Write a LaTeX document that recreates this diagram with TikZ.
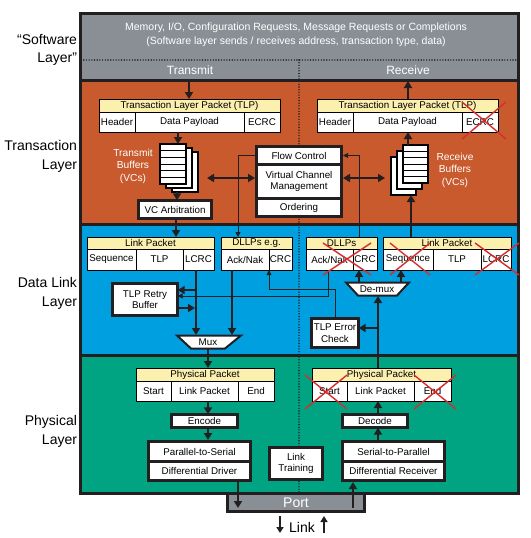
\documentclass[tikz,border=0pt]{standalone}
\usepackage{fontspec}
\setmainfont{Liberation Sans}
\usetikzlibrary{arrows.meta}
\definecolor{swgray}{RGB}{138,143,150}
\definecolor{txorange}{RGB}{200,90,45}
\definecolor{dlblue}{RGB}{0,160,224}
\definecolor{phgreen}{RGB}{0,163,130}
\definecolor{hdryellow}{RGB}{252,240,175}
\definecolor{xred}{RGB}{215,45,45}
\definecolor{framecol}{RGB}{35,31,32}
\newcommand\boxfont{\fontsize{9.8}{11.5}\selectfont}
\newcommand\lblfont{\fontsize{14}{18.5}\selectfont}
% rectangle node from its corners: [style]{name}{x1}{y1}{x2}{y2}{text}
\newcommand\boxat[7][]{%
  \pgfmathsetmacro\bxcx{(#3+#5)/2}\pgfmathsetmacro\bxcy{(#4+#6)/2}%
  \pgfmathsetmacro\bxw{#5-#3}\pgfmathsetmacro\bxh{#6-#4}%
  \node[#1, minimum width=\bxw pt, minimum height=\bxh pt] (#2) at (\bxcx,\bxcy) {#7};}
\begin{document}
\begin{tikzpicture}[x=1pt,y=-1pt,
  every node/.style={inner sep=0pt, outer sep=0pt},
  cell/.style={draw=black, line width=0.6pt, fill=white, font=\boxfont},
  hdr/.style={cell, fill=hdryellow},
  heavy/.style={draw=framecol, line width=2.6pt, fill=white, font=\boxfont, align=center},
  blk/.style={fill=framecol},
  inner/.style={fill=white, font=\boxfont, align=center},
  page/.style={draw=black, line width=1.6pt, fill=white},
  big/.style={line width=2.4pt, draw=framecol, -{Triangle[length=7pt,width=8pt]}},
  bigboth/.style={line width=2.4pt, draw=framecol, {Triangle[length=7pt,width=8pt]}-{Triangle[length=7pt,width=8pt]}},
  thinar/.style={line width=0.9pt, draw=framecol, -{Triangle[length=5pt,width=5pt]}},
  linkar/.style={line width=2pt, draw=framecol, -{Triangle[length=6pt,width=7pt]}},
  dots/.style={draw=framecol, line width=1.6pt, line cap=round, dash pattern=on 0pt off 2.7pt},
  xmark/.style={draw=xred, line width=1.4pt},
  wtext/.style={text=white, font=\boxfont, align=center}
]
\useasboundingbox (0,0) rectangle (530,538);

% layer bands
\fill[swgray] (80,13) rectangle (518,80);
\fill[txorange] (80,80) rectangle (518,224);
\fill[dlblue] (80,224) rectangle (518,355);
\fill[phgreen] (80,355) rectangle (518,493);
\draw[framecol, line width=3pt] (80,80) -- (518,80) (80,224) -- (518,224) (80,355) -- (518,355);
\draw[dots] (81,60) -- (517,60);
\draw[dots] (299,60) -- (299,492);
\draw[framecol, line width=3pt] (80,13) rectangle (518,493);

% layer names
\node[font=\lblfont, align=right, anchor=east] (swlayer) at (77,50) {“Software\\Layer”};
\node[font=\lblfont, align=right, anchor=east] (trlayer) at (77,156.5) {Transaction\\Layer};
\node[font=\lblfont, align=right, anchor=east] (dllayer) at (77,293.5) {Data Link\\Layer};
\node[font=\lblfont, align=right, anchor=east] (phlayer) at (77,431.5) {Physical\\Layer};

% software layer
\node[text=white, font=\fontsize{10.5}{14}\selectfont, align=center] (swtext) at (296,35)
  {Memory, I/O, Configuration Requests, Message Requests or Completions\\(Software layer sends / receives address, transaction type, data)};
\node[text=white, font=\fontsize{12}{14}\selectfont] (txlbl) at (190,70) {Transmit};
\node[text=white, font=\fontsize{12}{14}\selectfont] (rxlbl) at (408,70) {Receive};

% transaction layer packets
\boxat[hdr]{tlptx}{99}{99}{280}{112}{Transaction Layer Packet (TLP)}
\boxat[cell]{tlptxH}{99}{112}{135}{132}{Header}
\boxat[cell]{tlptxD}{135}{112}{244}{132}{Data Payload}
\boxat[cell]{tlptxE}{244}{112}{280}{132}{ECRC}
\boxat[hdr]{tlprx}{317}{99}{498}{112}{Transaction Layer Packet (TLP)}
\boxat[cell]{tlprxH}{317}{112}{353}{132}{Header}
\boxat[cell]{tlprxD}{353}{112}{462}{132}{Data Payload}
\boxat[cell]{tlprxE}{462}{112}{498}{132}{ECRC}

% transmit buffers
\boxat[page]{txb3}{172}{152}{198}{192}{}
\boxat[page]{txb2}{166}{148}{192}{188}{}
\boxat[page]{txb1}{160}{144}{186}{184}{}
\foreach \yy in {150.7,157.3,164,170.7,177.3} \draw[line width=1pt] (160,\yy) -- (186,\yy);
\node[wtext, font=\fontsize{10.2}{12.5}\selectfont] (txbuflbl) at (133,166) {Transmit\\Buffers\\(VCs)};
\boxat[heavy]{vcarb}{138.3}{200.3}{211.7}{218.7}{VC Arbitration}

% receive buffers
\boxat[page]{rxb3}{391}{157}{416}{195}{}
\boxat[page]{rxb2}{397}{151}{422}{189}{}
\boxat[page]{rxb1}{403}{145}{428}{183}{}
\foreach \yy in {151.3,157.7,164,170.3,176.7} \draw[line width=1pt] (403,\yy) -- (428,\yy);
\node[wtext, font=\fontsize{10.2}{12.5}\selectfont] (rxbuflbl) at (455,170) {Receive\\Buffers\\(VCs)};

% flow control / VC management / ordering
\boxat[blk]{ctl}{255}{145}{343}{218}{}
\boxat[inner]{fc}{258}{148}{340}{163}{Flow Control}
\boxat[inner]{vcm}{258}{166}{340}{197}{Virtual Channel\\Management}
\boxat[inner]{ord}{258}{200}{340}{215}{Ordering}

% data link layer packets
\boxat[hdr]{lptx}{87}{237}{214}{249}{Link Packet}
\boxat[cell]{lptxS}{87}{249}{136}{270}{Sequence}
\boxat[cell]{lptxT}{136}{249}{183}{270}{TLP}
\boxat[cell]{lptxL}{183}{249}{214}{270}{LCRC}
\boxat[hdr]{dlltx}{221}{237}{292}{249}{DLLPs e.g.}
\boxat[cell]{dlltxA}{221}{249}{269}{270}{Ack/Nak}
\boxat[cell]{dlltxC}{269}{249}{292}{270}{CRC}
\boxat[hdr]{dllrx}{306}{237}{377}{249}{DLLPs}
\boxat[cell]{dllrxA}{306}{249}{353}{270}{Ack/Nak}
\boxat[cell]{dllrxC}{353}{249}{377}{270}{CRC}
\boxat[hdr]{lprx}{383}{237}{511}{249}{Link Packet}
\boxat[cell]{lprxS}{383}{249}{433}{270}{Sequence}
\boxat[cell]{lprxT}{433}{249}{481}{270}{TLP}
\boxat[cell]{lprxL}{481}{249}{511}{270}{LCRC}

\boxat[heavy]{retry}{112.3}{283.3}{177.7}{315.7}{TLP Retry\\Buffer}
\boxat[heavy]{errchk}{311.3}{318.3}{358.7}{347.7}{TLP Error\\Check}

% mux and de-mux
\draw[framecol, line width=2pt, fill=white] (177,335.5) -- (241,335.5) -- (225,348.5) -- (191,348.5) -- cycle;
\node[font=\boxfont] (mux) at (208,342.5) {Mux};
\coordinate (muxtop) at (208,335);
\coordinate (muxbot) at (208,349);
\draw[framecol, line width=2pt, fill=white] (346,282.5) -- (409,282.5) -- (397,295.5) -- (358,295.5) -- cycle;
\node[font=\boxfont] (demux) at (377,289.5) {De-mux};
\coordinate (demuxtop) at (377,282);
\coordinate (demuxbot) at (378,296);

% physical layer
\boxat[hdr]{phtx}{136}{368}{274}{381}{Physical Packet}
\boxat[cell]{phtxS}{136}{381}{171}{401}{Start}
\boxat[cell]{phtxL}{171}{381}{238}{401}{Link Packet}
\boxat[cell]{phtxE}{238}{381}{274}{401}{End}
\boxat[hdr]{phrx}{312}{368}{451}{381}{Physical Packet}
\boxat[cell]{phrxS}{312}{381}{347}{401}{Start}
\boxat[cell]{phrxL}{347}{381}{414}{401}{Link Packet}
\boxat[cell]{phrxE}{414}{381}{451}{401}{End}
\boxat[heavy]{encode}{171.3}{414.3}{237.7}{427.7}{Encode}
\boxat[heavy]{decode}{342.3}{414.3}{407.7}{427.7}{Decode}
\boxat[blk]{p2sblk}{147}{440}{252}{482}{}
\boxat[inner]{p2s}{150}{443}{249}{460}{Parallel-to-Serial}
\boxat[inner]{ddrv}{150}{463}{249}{479}{Differential Driver}
\boxat[blk]{s2pblk}{341}{440}{446}{482}{}
\boxat[inner]{s2p}{344}{443}{443}{460}{Serial-to-Parallel}
\boxat[inner]{drcv}{344}{463}{443}{479}{Differential Receiver}
\boxat[heavy]{ltrain}{269.3}{447.3}{322.7}{479.7}{Link\\Training}

% port and link
\boxat[draw=framecol, line width=2.6pt, fill=swgray, text=white, font=\lblfont]{port}{227.3}{494}{364.7}{511.7}{Port}
\node[font=\lblfont] (link) at (302,527) {Link};
\coordinate (lnkdnA) at (280,516);
\coordinate (lnkdnB) at (280,533);
\coordinate (lnkupA) at (324,533);
\coordinate (lnkupB) at (324,516);

% transmit path
\coordinate (swtx) at (189,81);
\draw[big] (swtx) -- (swtx |- tlptx.north);
\draw[big] (tlptxD.south -| 178,0) -- (txb1.north -| 178,0);
\draw[big] (txb3.south -| 177,0) -- (vcarb.north -| 177,0);
\draw[big] (vcarb.south -| 176,0) -- (lptx.north -| 176,0);
\coordinate (txbufR) at (207,178);
\draw[bigboth] (txbufR) -- (ctl.west |- txbufR);
\draw[big] (lptxL.south -| 196,0) -- (muxtop -| 196,0);
\draw[big] (dlltxA.south -| 232,0) -- (muxtop -| 232,0);
\coordinate (lcrcA) at (196,290);
\coordinate (lcrcB) at (195,308);
\draw[big] (lcrcA) -- (retry.east |- lcrcA);
\draw[big] (retry.east |- lcrcB) -- (lcrcB);
\draw[big] (muxbot) -- (phtx.north -| muxbot);
\draw[big] (phtxL.south -| 208,0) -- (encode.north -| 208,0);
\draw[big] (encode.south -| 208,0) -- (p2sblk.north -| 208,0);
\coordinate (porttx) at (238,508);
\draw[big] (p2sblk.south -| porttx) -- (porttx);

% receive path
\coordinate (portrx) at (353,508);
\draw[big] (portrx) -- (s2pblk.south -| portrx);
\draw[big] (s2pblk.north -| 378,0) -- (decode.south -| 378,0);
\draw[big] (decode.north -| 378,0) -- (phrxL.south -| 378,0);
\draw[big] (phrx.north -| demuxbot) -- (demuxbot);
\coordinate (errtap) at (378,328);
\draw[big] (errtap) -- (errchk.east |- errtap);
\draw[big] (demuxtop -| 359,0) -- (dllrxC.south -| 359,0);
\draw[big] (demuxtop -| 401,0) -- (lprxS.south -| 401,0);
\draw[big] (lprx.north -| 411,0) -- (rxb3.south -| 411,0);
\draw[big] (rxb1.north -| 408,0) -- (tlprxD.south -| 408,0);
\coordinate (swrx) at (408,81);
\draw[big] (swrx |- tlprx.north) -- (swrx);
\coordinate (rxbufL) at (385,178);
\draw[bigboth] (ctl.east |- rxbufL) -- (rxbufL);

% control lines
\draw[thinar] (ctl.west |- fc.west) -| (dlltx.north -| 238,0);
\draw[thinar] (dllrx.north -| 359,0) |- (ctl.east |- fc.east);
\coordinate (nakbend) at (328,296);
\draw[thinar] (dllrxA.south -| nakbend) -- (nakbend) -- (retry.east |- nakbend);
\coordinate (ackbend) at (335,289);
\draw[thinar] (errchk.north -| ackbend) -- (ackbend) -| (dlltxC.south -| 269,0);

% link arrows
\draw[linkar] (lnkdnA) -- (lnkdnB);
\draw[linkar] (lnkupA) -- (lnkupB);

% fields not used on receive
\draw[xmark] (462,102) -- (506,139) (462,139) -- (506,102);
\draw[xmark] (323,243) -- (371,275) (323,275) -- (371,243);
\draw[xmark] (390,243) -- (430,275) (390,275) -- (430,243);
\draw[xmark] (475,243) -- (519,275) (475,275) -- (519,243);
\draw[xmark] (305,375) -- (347,409) (305,409) -- (347,375);
\draw[xmark] (414,375) -- (456,409) (414,409) -- (456,375);
\end{tikzpicture}
\end{document}
